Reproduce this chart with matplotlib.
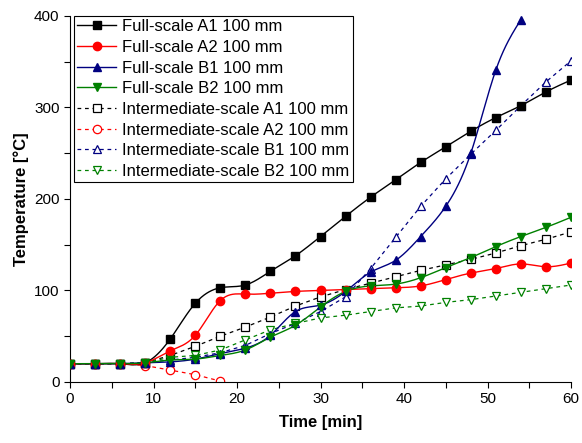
import numpy as np
import matplotlib.pyplot as plt
from matplotlib.lines import Line2D

plt.rcParams['font.family'] = ['Liberation Sans', 'DejaVu Sans']

time = [0, 3, 6, 9, 12, 15, 18, 21, 24, 27, 30, 33, 36, 39, 42, 45, 48, 51, 54, 57, 60]

full_a1 = [20, 20, 20, 21, 47, 86, 103, 106, 121, 138, 159, 181, 202, 221, 240, 257, 274, 289, 302, 317, 330]
full_a2 = [20, 20, 20, 21, 34, 51, 89, 96, 97, 99, 100, 101, 102, 103, 105, 112, 119, 124, 129, 126, 130]
full_b1 = [20, 20, 20, 21, 22, 25, 31, 37, 51, 77, 84, 99, 120, 133, 159, 192, 250, 341, 396]
full_b2 = [20, 20, 20, 21, 24, 25, 29, 35, 49, 62, 82, 99, 105, 107, 114, 125, 136, 148, 159, 169, 180]

inter_a1 = [20, 20, 20, 21, 29, 39, 50, 60, 71, 83, 93, 101, 108, 115, 122, 128, 134, 141, 149, 156, 164]
inter_a2 = [20, 20, 20, 18, 13, 8, 1]
inter_b1 = [20, 20, 20, 21, 24, 27, 32, 40, 53, 64, 77, 93, 124, 158, 192, 222, 249, 275, 302, 328, 351]
inter_b2 = [20, 20, 20, 21, 27, 29, 35, 46, 57, 64, 70, 73, 77, 81, 83, 87, 90, 94, 98, 102, 106]

labels_full = ['Full-scale A1 100 mm', 'Full-scale A2 100 mm',
               'Full-scale B1 100 mm', 'Full-scale B2 100 mm']
labels_inter = ['Intermediate-scale A1 100 mm', 'Intermediate-scale A2 100 mm',
                'Intermediate-scale B1 100 mm', 'Intermediate-scale B2 100 mm']

colors = ['black', '#ff0000', '#000080', '#008000']
markers = ['s', 'o', '^', 'v']


def smooth(x, y, n=20):
    # natural cubic spline through the measured points
    x = np.asarray(x, float)
    y = np.asarray(y, float)
    h = np.diff(x)
    N = len(x)
    A = np.zeros((N, N))
    r = np.zeros(N)
    A[0, 0] = A[-1, -1] = 1
    for i in range(1, N - 1):
        A[i, i - 1] = h[i - 1]
        A[i, i] = 2 * (h[i - 1] + h[i])
        A[i, i + 1] = h[i]
        r[i] = 3 * ((y[i + 1] - y[i]) / h[i] - (y[i] - y[i - 1]) / h[i - 1])
    c = np.linalg.solve(A, r)
    b = (y[1:] - y[:-1]) / h - h * (2 * c[:-1] + c[1:]) / 3
    d = (c[1:] - c[:-1]) / (3 * h)
    xs, ys = [], []
    for i in range(N - 1):
        t = np.linspace(0, h[i], n, endpoint=False)
        xs.append(x[i] + t)
        ys.append(y[i] + b[i] * t + c[i] * t ** 2 + d[i] * t ** 3)
    xs.append([x[-1]])
    ys.append([y[-1]])
    return np.concatenate(xs), np.concatenate(ys)


fig = plt.figure(figsize=(5.82, 4.43), dpi=100)
ax = fig.add_axes([0.1203, 0.1377, 0.8608, 0.8262])

ms = 6

# intermediate-scale tests: dashed, open markers
inter_handles = []
for data, c, m, lab in zip([inter_a1, inter_a2, inter_b1, inter_b2], colors, markers, labels_inter):
    t = time[:len(data)]
    ax.plot(t, data, color=c, lw=0.9, ls=(0, (3, 3)), marker=m, ms=ms,
            mfc='white', mec=c, mew=0.9, zorder=2)
    inter_handles.append(Line2D([], [], color=c, lw=0.9, ls=(0, (3, 3)), marker=m, ms=ms,
                                mfc='white', mec=c, mew=0.9, label=lab))

# full-scale tests: smooth solid lines, filled markers
full_handles = []
for data, c, m, lab in zip([full_a1, full_a2, full_b1, full_b2], colors, markers, labels_full):
    t = time[:len(data)]
    sx, sy = smooth(t, data)
    ax.plot(sx, sy, color=c, lw=1.0, zorder=3)
    ax.plot(t, data, ls='none', marker=m, ms=ms, color=c, zorder=4)
    full_handles.append(Line2D([], [], color=c, lw=1.0, marker=m, ms=ms, label=lab))

ax.set_xlim(0, 60)
ax.set_ylim(0, 400)
ax.set_xticks(range(0, 61, 10))
ax.set_xticks(range(5, 60, 10), minor=True)
ax.set_yticks(range(0, 401, 100))
ax.set_yticks(range(50, 400, 100), minor=True)
ax.spines['top'].set_visible(False)
ax.spines['right'].set_visible(False)
ax.tick_params(which='both', direction='out', length=4, width=0.8, labelsize=11)

ax.set_xlabel('Time [min]', fontsize=12, fontweight='bold', labelpad=6)
ax.set_ylabel('Temperature [\u00b0C]', fontsize=12, fontweight='bold', labelpad=4)

leg = ax.legend(handles=full_handles + inter_handles, loc='upper left', bbox_to_anchor=(0.008, 1.0),
                borderaxespad=0, fontsize=12, numpoints=1, handlelength=2.3,
                handletextpad=0.4, labelspacing=0.34, borderpad=0.2,
                fancybox=False, framealpha=1, edgecolor='black')
leg.get_frame().set_linewidth(0.8)

fig.savefig('out.png', dpi=100)
